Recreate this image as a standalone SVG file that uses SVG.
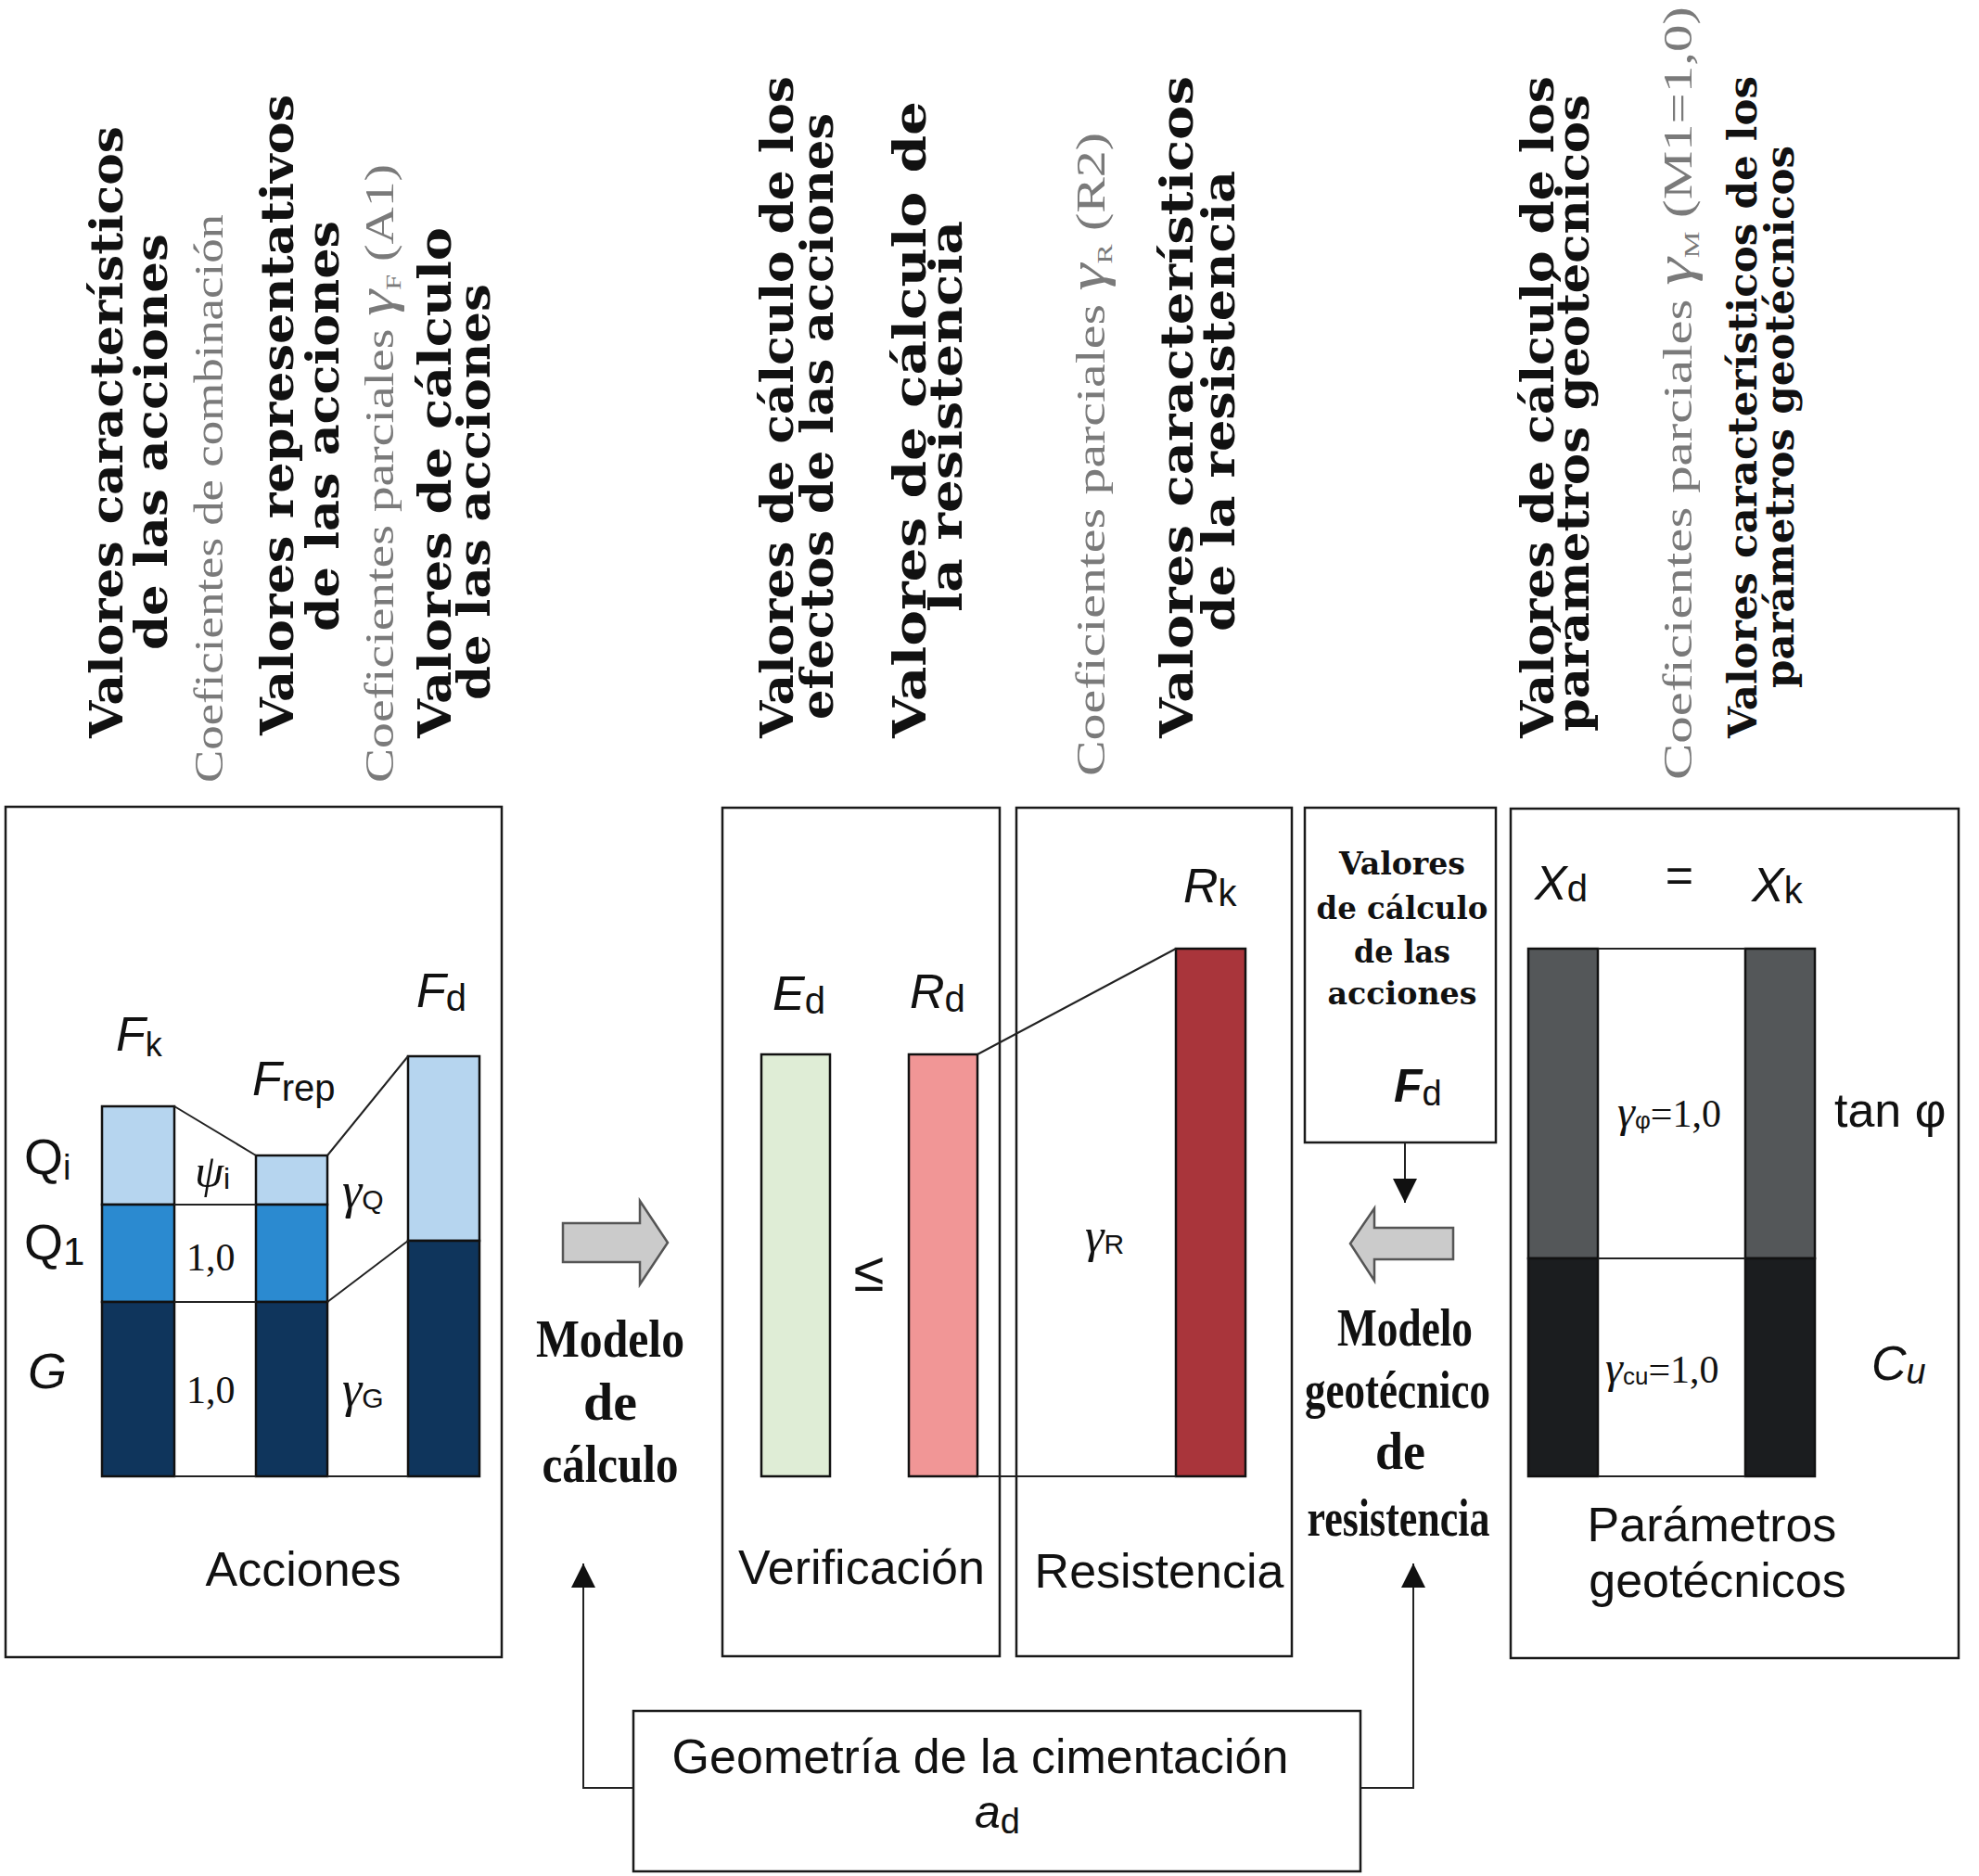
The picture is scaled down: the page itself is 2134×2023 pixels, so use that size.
<svg xmlns="http://www.w3.org/2000/svg" width="2134" height="2023" viewBox="0 0 2134 2023">
<style>
.bx{fill:none;stroke:#1a1a1a;stroke-width:2.5}
.bar{stroke:#111;stroke-width:2.5}
.ln{stroke:#222;stroke-width:2;fill:none}
.b{font-family:"DejaVu Serif","Liberation Serif",serif;font-weight:bold;font-size:48px;fill:#111}
.g{font-family:"Liberation Serif",serif;font-size:44px;fill:#7a7a7a}
.gi{font-family:"Liberation Serif",serif;font-style:italic}
.s{font-family:"Liberation Sans",Arial,sans-serif;font-size:52px;fill:#111}
.si{font-family:"Liberation Sans",Arial,sans-serif;font-style:italic;font-size:52px;fill:#111}
.sub{font-family:"Liberation Sans",Arial,sans-serif;font-style:normal;font-weight:normal}
.m{font-family:"Liberation Serif",serif;font-weight:bold;font-size:58px;fill:#111;text-anchor:middle}
.t{font-family:"Liberation Serif",serif;font-size:42px;fill:#111}
.vb{font-family:"DejaVu Serif","Liberation Serif",serif;font-weight:bold;font-size:34px;fill:#111;text-anchor:middle}
.arr{fill:#cbcbcb;stroke:#555;stroke-width:2.5}
</style>
<defs>
<marker id="ah" markerUnits="userSpaceOnUse" markerWidth="30" markerHeight="30" refX="26" refY="13" orient="auto">
<path d="M0,0 L26,13 L0,26 Z" fill="#111"/>
</marker>
</defs>
<rect width="2134" height="2023" fill="#fff"/>

<g id="top-labels">
<text class="b" transform="translate(132,796) rotate(-90)" textLength="660" lengthAdjust="spacingAndGlyphs">Valores característicos</text>
<text class="b" transform="translate(180,701) rotate(-90)" textLength="449" lengthAdjust="spacingAndGlyphs">de las acciones</text>
<text class="g" transform="translate(240,844) rotate(-90)" textLength="613" lengthAdjust="spacingAndGlyphs">Coeficientes de combinación</text>
<text class="b" transform="translate(316,793) rotate(-90)" textLength="691" lengthAdjust="spacingAndGlyphs">Valores representativos</text>
<text class="b" transform="translate(365,681) rotate(-90)" textLength="443" lengthAdjust="spacingAndGlyphs">de las acciones</text>
<text class="g" transform="translate(424,844) rotate(-90)" textLength="667" lengthAdjust="spacingAndGlyphs">Coeficientes parciales <tspan class="gi" style="font-size:56px">γ</tspan><tspan style="font-size:24px" dy="8">F</tspan><tspan dy="-8"> (A1)</tspan></text>
<text class="b" transform="translate(486,796) rotate(-90)" textLength="551" lengthAdjust="spacingAndGlyphs">Valores de cálculo</text>
<text class="b" transform="translate(528,755) rotate(-90)" textLength="449" lengthAdjust="spacingAndGlyphs">de las acciones</text>

<text class="b" transform="translate(855,796) rotate(-90)" textLength="714" lengthAdjust="spacingAndGlyphs">Valores de cálculo de los</text>
<text class="b" transform="translate(898,776) rotate(-90)" textLength="654" lengthAdjust="spacingAndGlyphs">efectos de las acciones</text>
<text class="b" transform="translate(998,796) rotate(-90)" textLength="687" lengthAdjust="spacingAndGlyphs">Valores de cálculo de</text>
<text class="b" transform="translate(1037,660) rotate(-90)" textLength="422" lengthAdjust="spacingAndGlyphs">la resistencia</text>
<text class="g" transform="translate(1191,837) rotate(-90)" textLength="694" lengthAdjust="spacingAndGlyphs">Coeficientes parciales  <tspan class="gi" style="font-size:56px">γ</tspan><tspan style="font-size:24px" dy="8">R</tspan><tspan dy="-8"> (R2)</tspan></text>
<text class="b" transform="translate(1286,796) rotate(-90)" textLength="714" lengthAdjust="spacingAndGlyphs">Valores característicos</text>
<text class="b" transform="translate(1331,681) rotate(-90)" textLength="497" lengthAdjust="spacingAndGlyphs">de la resistencia</text>

<text class="b" transform="translate(1675,796) rotate(-90)" textLength="714" lengthAdjust="spacingAndGlyphs">Valores de cálculo de los</text>
<text class="b" transform="translate(1713,789) rotate(-90)" textLength="687" lengthAdjust="spacingAndGlyphs">parámetros geotécnicos</text>
<text class="g" transform="translate(1824,841) rotate(-90)" textLength="834" lengthAdjust="spacingAndGlyphs">Coeficientes parciales  <tspan class="gi" style="font-size:56px">γ</tspan><tspan style="font-size:24px" dy="8">M</tspan><tspan dy="-8">   (M1=1,0)</tspan></text>
<text class="b" transform="translate(1894,796) rotate(-90)" textLength="714" lengthAdjust="spacingAndGlyphs" style="font-size:42px">Valores característicos de los</text>
<text class="b" transform="translate(1934,742) rotate(-90)" textLength="585" lengthAdjust="spacingAndGlyphs" style="font-size:42px">parámetros geotécnicos</text>
</g>

<g id="n-acciones">
<rect class="bx" x="6" y="870" width="535" height="917"/>
<rect class="bar" x="110" y="1193" width="78" height="106" fill="#b6d5ef"/>
<rect class="bar" x="110" y="1299" width="78" height="105" fill="#2b8ad0"/>
<rect class="bar" x="110" y="1404" width="78" height="188" fill="#0f355c"/>
<rect class="bar" x="276" y="1246" width="77" height="53" fill="#b6d5ef"/>
<rect class="bar" x="276" y="1299" width="77" height="105" fill="#2b8ad0"/>
<rect class="bar" x="276" y="1404" width="77" height="188" fill="#0f355c"/>
<rect class="bar" x="440" y="1139" width="77" height="199" fill="#b6d5ef"/>
<rect class="bar" x="440" y="1338" width="77" height="254" fill="#0f355c"/>
<path class="ln" d="M188,1193 L276,1246 M188,1299 H276 M188,1404 H276 M188,1592 H276 M353,1246 L440,1139 M353,1404 L440,1338 M353,1592 H440"/>
<text class="si" x="125" y="1133">F<tspan class="sub" style="font-size:36px" dy="6">k</tspan></text>
<text class="si" x="272" y="1181">F<tspan class="sub" style="font-size:40px" dy="6">rep</tspan></text>
<text class="si" x="449" y="1086">F<tspan class="sub" style="font-size:40px" dy="4">d</tspan></text>
<text class="s" x="26" y="1266" style="font-size:54px">Q<tspan style="font-size:38px" dy="6">i</tspan></text>
<text class="s" x="26" y="1358" style="font-size:54px">Q<tspan style="font-size:42px" dy="6">1</tspan></text>
<text class="si" x="30" y="1497" style="font-size:54px">G</text>
<text class="t" x="210" y="1280" style="font-size:50px"><tspan font-style="italic">ψ</tspan><tspan class="sub" style="font-size:32px" dy="2">i</tspan></text>
<text class="t" x="201" y="1370">1,0</text>
<text class="t" x="201" y="1513">1,0</text>
<text class="t" x="369" y="1302" style="font-size:54px"><tspan font-style="italic">γ</tspan><tspan class="sub" style="font-size:30px" dy="2">Q</tspan></text>
<text class="t" x="369" y="1516" style="font-size:54px"><tspan font-style="italic">γ</tspan><tspan class="sub" style="font-size:30px" dy="2">G</tspan></text>
<text class="s" x="327" y="1710" text-anchor="middle">Acciones</text>
</g>

<g id="n-modelo-calculo">
<path class="arr" d="M607,1319 H690 V1295 L720,1340 L690,1385 V1361 H607 Z"/>
<text class="m" x="658" y="1463" textLength="160" lengthAdjust="spacingAndGlyphs">Modelo</text>
<text class="m" x="658" y="1531" textLength="58" lengthAdjust="spacingAndGlyphs">de</text>
<text class="m" x="658" y="1598" textLength="147" lengthAdjust="spacingAndGlyphs">cálculo</text>
</g>

<g id="n-verificacion">
<rect class="bx" x="779" y="871" width="299" height="915"/>
<rect class="bar" x="821" y="1137" width="74" height="455" fill="#dfedd6"/>
<rect class="bar" x="980" y="1137" width="74" height="455" fill="#f19696"/>
<text class="si" x="833" y="1089">E<tspan class="sub" style="font-size:40px" dy="4">d</tspan></text>
<text class="si" x="981" y="1087">R<tspan class="sub" style="font-size:40px" dy="4">d</tspan></text>
<text class="s" x="937" y="1392" text-anchor="middle" style="font-size:60px">≤</text>
<text class="s" x="929" y="1708" text-anchor="middle">Verificación</text>
</g>

<g id="n-resistencia">
<rect class="bx" x="1096" y="871" width="297" height="915"/>
<rect class="bar" x="1268" y="1023" width="75" height="569" fill="#a9353b"/>
<path class="ln" d="M1054,1137 L1268,1023 M1054,1592 H1268"/>
<text class="si" x="1276" y="973">R<tspan class="sub" style="font-size:40px" dy="4">k</tspan></text>
<text class="t" x="1170" y="1350" style="font-size:52px"><tspan font-style="italic">γ</tspan><tspan class="sub" style="font-size:30px" dy="2">R</tspan></text>
<text class="s" x="1250" y="1712" text-anchor="middle">Resistencia</text>
</g>

<g id="n-valores-fd">
<rect class="bx" x="1407" y="871" width="206" height="361"/>
<text class="vb" x="1512" y="943" textLength="136" lengthAdjust="spacingAndGlyphs">Valores</text>
<text class="vb" x="1512" y="991" textLength="185" lengthAdjust="spacingAndGlyphs">de cálculo</text>
<text class="vb" x="1512" y="1038" textLength="104" lengthAdjust="spacingAndGlyphs">de las</text>
<text class="vb" x="1512" y="1083" textLength="161" lengthAdjust="spacingAndGlyphs">acciones</text>
<text class="si" x="1503" y="1188" style="font-size:50px;font-weight:bold">F<tspan class="sub" style="font-size:38px" dy="4">d</tspan></text>
</g>

<g id="n-modelo-geo">
<path class="arr" d="M1567,1324 H1482 V1303 L1456,1341 L1482,1381 V1358 H1567 Z"/>
<text class="m" x="1515" y="1451" textLength="146" lengthAdjust="spacingAndGlyphs">Modelo</text>
<text class="m" x="1507" y="1518" textLength="200" lengthAdjust="spacingAndGlyphs">geotécnico</text>
<text class="m" x="1510" y="1584" textLength="54" lengthAdjust="spacingAndGlyphs">de</text>
<text class="m" x="1508" y="1656" textLength="197" lengthAdjust="spacingAndGlyphs">resistencia</text>
</g>

<g id="n-parametros">
<rect class="bx" x="1629" y="872" width="483" height="916"/>
<rect class="bar" x="1648" y="1023" width="75" height="334" fill="#545759"/>
<rect class="bar" x="1648" y="1357" width="75" height="235" fill="#1b1d1f"/>
<rect class="bar" x="1882" y="1023" width="75" height="334" fill="#545759"/>
<rect class="bar" x="1882" y="1357" width="75" height="235" fill="#1b1d1f"/>
<path class="ln" d="M1723,1023 H1882 M1723,1357 H1882 M1723,1592 H1882"/>
<text class="si" x="1655" y="970">X<tspan class="sub" style="font-size:40px" dy="2">d</tspan></text>
<text class="s" x="1811" y="962" text-anchor="middle">=</text>
<text class="si" x="1889" y="972">X<tspan class="sub" style="font-size:40px" dy="2">k</tspan></text>
<text class="t" x="1744" y="1215"><tspan font-style="italic" style="font-size:48px">γ</tspan><tspan class="sub" style="font-size:26px" dy="2">φ</tspan><tspan dy="-2">=1,0</tspan></text>
<text class="t" x="1731" y="1491"><tspan font-style="italic" style="font-size:48px">γ</tspan><tspan class="sub" style="font-size:26px" dy="2">cu</tspan><tspan dy="-2">=1,0</tspan></text>
<text class="s" x="1978" y="1215">tan φ</text>
<text class="si" x="2018" y="1488">C<tspan style="font-size:38px" dy="4">u</tspan></text>
<text class="s" x="1846" y="1662" text-anchor="middle">Parámetros</text>
<text class="s" x="1852" y="1722" text-anchor="middle">geotécnicos</text>
</g>

<g id="n-geometria">
<rect class="bx" x="683" y="1845" width="784" height="173"/>
<text class="s" x="1057" y="1912" text-anchor="middle">Geometría de la cimentación</text>
<text class="si" x="1051" y="1971" style="font-size:50px">a<tspan class="sub" style="font-size:38px" dy="6">d</tspan></text>
</g>

<g id="connectors">
<path class="ln" stroke-width="2.5" d="M683,1928 H629 V1686" marker-end="url(#ah)"/>
<path class="ln" stroke-width="2.5" d="M1467,1928 H1524 V1686" marker-end="url(#ah)"/>
<path class="ln" stroke-width="2.5" d="M1515,1232 V1297" marker-end="url(#ah)"/>
</g>
</svg>
